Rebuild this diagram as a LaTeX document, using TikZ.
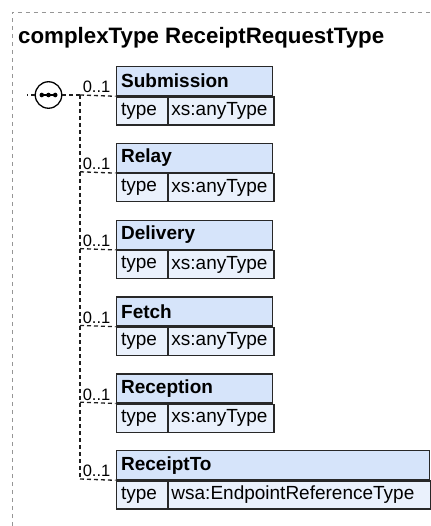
\documentclass[tikz,border=0pt]{standalone}
\usepackage{fontspec}
\setmainfont{Liberation Sans}
\usetikzlibrary{calc}
\definecolor{hdrc}{RGB}{214,228,250}
\definecolor{rowc}{RGB}{234,241,252}
\definecolor{boxc}{RGB}{40,40,40}
\definecolor{linec}{RGB}{30,30,30}
\definecolor{framec}{RGB}{150,150,150}
\begin{document}
\begin{tikzpicture}[x=1pt,y=-1pt,
  hdr/.style={draw=boxc, fill=hdrc, line width=1.3pt, minimum height=29pt, inner xsep=5pt, inner ysep=0pt, anchor=north west, font=\fontsize{19}{19}\selectfont\bfseries, align=left},
  typ/.style={draw=boxc, fill=rowc, line width=1.3pt, minimum height=28pt, minimum width=51pt, inner xsep=5pt, inner ysep=0pt, anchor=north west, font=\fontsize{19}{19}\selectfont, align=left, text width=41pt},
  val/.style={draw=boxc, fill=rowc, line width=1.3pt, minimum height=28pt, inner xsep=3pt, inner ysep=0pt, anchor=north west, font=\fontsize{19}{19}\selectfont, align=left},
  conn/.style={draw=linec, line width=1.3pt, dash pattern=on 4pt off 3pt},
  mult/.style={font=\fontsize{16.5}{16.5}\selectfont, anchor=south east, inner sep=0pt},
  frame/.style={draw=framec, line width=0.9pt, dash pattern=on 4pt off 4pt}
]
\useasboundingbox (0,0) rectangle (430,526);
% outer frame
\draw[frame] (12,526) -- (12,12) -- (430,12);
\node[anchor=base west, inner sep=0pt, font=\fontsize{22.3}{23}\selectfont\bfseries] (title) at (18,44) {complexType ReceiptRequestType};
% elements
\foreach \i/\nm/\tv/\w [count=\k from 0] in {1/Submission/xs:anyType/156.5,2/Relay/xs:anyType/156.5,3/Delivery/xs:anyType/156.5,4/Fetch/xs:anyType/156.5,5/Reception/xs:anyType/156.5,6/ReceiptTo/wsa:EndpointReferenceType/313.3}{
  \pgfmathsetmacro{\ty}{66+76.8*\k}
  \node[hdr, minimum width=\w pt, text width=\w pt-10pt] (h\i) at (115.5,\ty) {\nm};
  \node[typ] (t\i) at (h\i.south west) {type};
  \node[val, minimum width=\w pt-51pt, text width=\w pt-57pt] (v\i) at (t\i.north east) {\tv};
  \coordinate (c\i) at (h\i.south west);
  \coordinate (s\i) at (80,\ty+29);
  \draw[conn] (s\i) -- (c\i);
  \node[mult] (m\i) at ($(c\i)+(-5,-3)$) {0..1};
}
\draw[conn] (s1) -- (s6);
% sequence compositor
\node[circle, draw=black, fill=white, line width=1.3pt, minimum size=26.5pt, inner sep=0pt] (seq) at (48.5,95) {};
\draw[conn] (seq.east) -- (s1);
\draw[conn] (seq.west) -- ++(-8,0) coordinate (seqin);
\draw[line width=1.2pt] ($(seq.center)+(-8,0)$) -- ($(seq.center)+(8,0)$);
\foreach \dx in {-6.7,0,6.7} \fill ($(seq.center)+(\dx,0)$) circle (2.3pt);
\end{tikzpicture}
\end{document}
